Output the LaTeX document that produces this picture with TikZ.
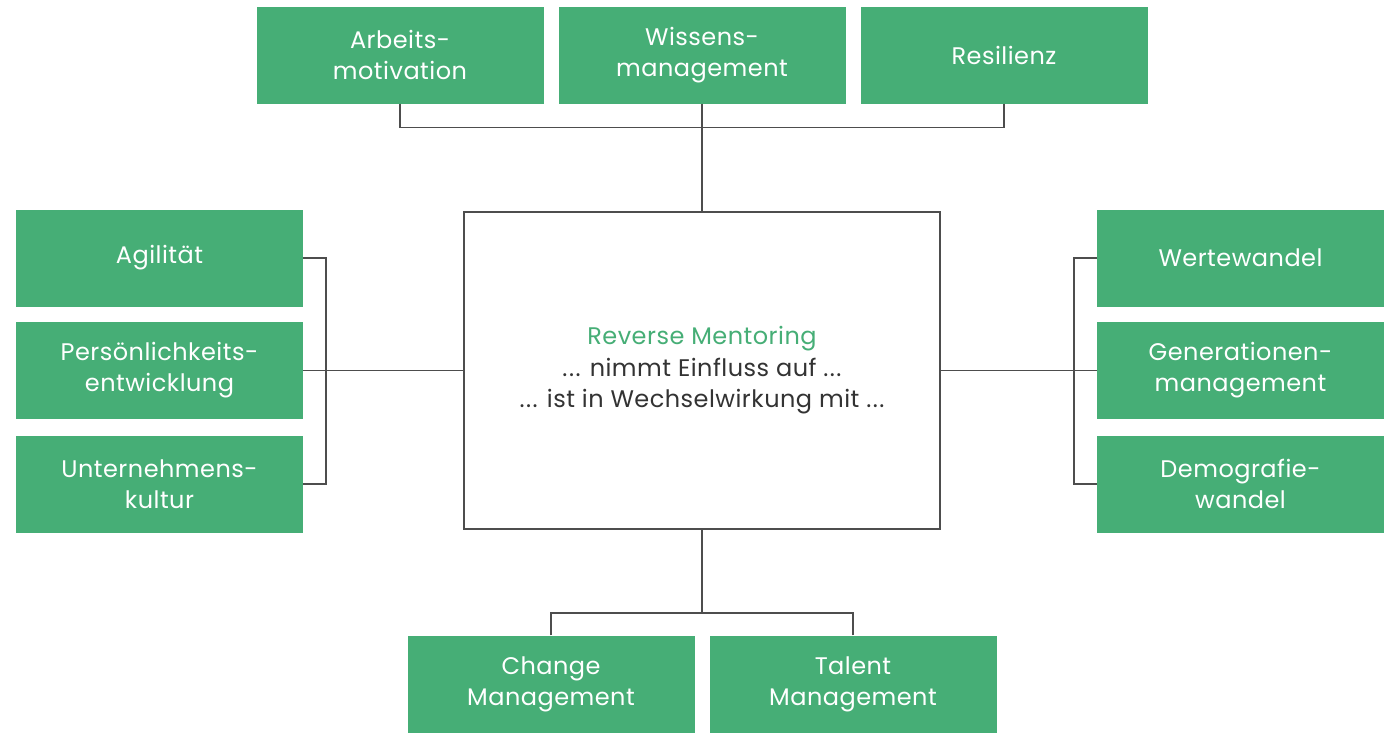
\documentclass[tikz,border=0pt]{standalone}
\usepackage{fontspec}
\setmainfont{Poppins}
\definecolor{boxgreen}{HTML}{46AE76}
\definecolor{linegray}{HTML}{4D4D4D}
\definecolor{textdark}{HTML}{333333}
\newcommand{\mydots}{.\kern1.5pt.\kern1.5pt.}
\begin{document}
\begin{tikzpicture}[x=1pt,y=-1pt,
  gbox/.style={fill=boxgreen,draw=none,text=white,minimum width=287pt,minimum height=97pt,inner sep=0pt,align=center,font=\addfontfeatures{LetterSpace=2}\fontsize{24}{31}\selectfont},
  conn/.style={draw=linegray,line width=1.3pt},
  cbox/.style={draw=linegray,line width=1.3pt,fill=white,minimum width=476pt,minimum height=317pt,inner sep=0pt,align=center,font=\addfontfeatures{LetterSpace=2}\fontsize{24}{31.5}\selectfont,text=textdark}]
\useasboundingbox (0,0) rectangle (1393,732);
% top
\node[gbox] (t1) at (400,55) {Arbeits-\\motivation};
\node[gbox] (t2) at (702,55) {Wissens-\\management};
\node[gbox] (t3) at (1004,55) {Resilienz};
% center
\node[cbox] (c) at (702,370.5) {\textcolor{boxgreen}{Reverse Mentoring}\\\mydots{} nimmt Einfluss auf \mydots\\\mydots{} ist in Wechselwirkung mit \mydots};
% left
\node[gbox] (l1) at (159.5,258) {Agilität};
\node[gbox] (l2) at (159.5,370.5) {Persönlichkeits-\\entwicklung};
\node[gbox] (l3) at (159.5,484) {Unternehmens-\\kultur};
% right
\node[gbox] (r1) at (1240.5,258) {Wertewandel};
\node[gbox] (r2) at (1240.5,370.5) {Generationen-\\management};
\node[gbox] (r3) at (1240.5,484) {Demografie-\\wandel};
% bottom
\node[gbox] (b1) at (551,684) {Change\\Management};
\node[gbox] (b2) at (853,684) {Talent\\Management};
% connectors top
\coordinate (th) at (702,127.5);
\draw[conn] (t1.south) |- (th);
\draw[conn] (t3.south) |- (th);
\draw[conn] (t2.south) -- (c.north);
% left
\coordinate (lb) at (326,370.5);
\draw[conn] (l1.east) -| (lb);
\draw[conn] (l3.east) -| (lb);
\draw[conn] (l2.east) -- (c.west);
% right
\coordinate (rb) at (1074,370.5);
\draw[conn] (r1.west) -| (rb);
\draw[conn] (r3.west) -| (rb);
\draw[conn] (r2.west) -- (c.east);
% bottom
\coordinate (bh) at (702,613);
\draw[conn] (c.south) -- (bh);
\draw[conn] (b1.north) |- (bh);
\draw[conn] (b2.north) |- (bh);
\end{tikzpicture}
\end{document}
